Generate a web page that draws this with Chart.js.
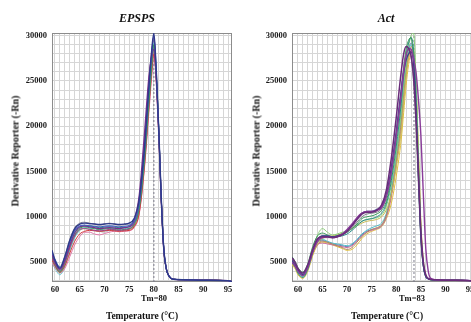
<!DOCTYPE html>
<html>
<head>
<meta charset="utf-8">
<script src="https://cdn.jsdelivr.net/npm/chart.js@4/dist/chart.umd.min.js"></script>
<style>
  html, body { margin: 0; padding: 0; background: #fff; }
  body { width: 471px; height: 322px; overflow: hidden; position: relative; font-family: 'Liberation Serif', 'Times New Roman', serif; color: #111; }
  .panel { position: absolute; top: 0; }
  .txt { position: absolute; font-weight: bold; white-space: nowrap; transform: translate(-50%, -50%); }
  .ttl { font-style: italic; font-size: 12px; }
  .ax { font-size: 9.5px; }
  .ylab { font-size: 10px; transform: translate(-50%, -50%) rotate(-90deg); }
  .tm { font-size: 8.5px; }
</style>
</head>
<body>
<div class="panel" style="left:0;"><canvas id="epspsChart" width="240" height="322"></canvas></div>
<div class="panel" style="left:235px;"><canvas id="actChart" width="245" height="322"></canvas></div>

<div class="txt ttl" style="left:137px; top:18px;">EPSPS</div>
<div class="txt ttl" style="left:386px; top:18px;">Act</div>
<div class="txt ylab" style="left:15px; top:151px;">Derivative Reporter (-Rn)</div>
<div class="txt ylab" style="left:256px; top:151px;">Derivative Reporter (-Rn)</div>
<div class="txt ax" style="left:142px; top:316px;">Temperature (°C)</div>
<div class="txt ax" style="left:387px; top:316px;">Temperature (°C)</div>
<div class="txt tm" style="left:154px; top:298px;">Tm=80</div>
<div class="txt tm" style="left:412px; top:298px;">Tm=83</div>

<script>
// ─── DATA ───
const yMin = 2800, yMax = 30300;
const yTickLabels = [5000, 10000, 15000, 20000, 25000, 30000];
const xTickLabels = [60, 65, 70, 75, 80, 85, 90, 95];

// EPSPS melt curves
const epspsTemps = [59.4, 60, 61, 62, 63, 64, 65, 66, 67, 68, 69, 70, 71, 72, 73, 74, 75, 76, 77, 78, 79, 79.5, 80, 80.5, 81, 81.5, 82, 82.5, 83, 84, 86, 90, 95, 95.8];
const epspsTm = 80;
const epspsA = [6300, 5200, 4300, 5600, 7400, 8700, 9200, 9300, 9250, 9200, 9150, 9200, 9250, 9200, 9150, 9200, 9300, 9800, 11800, 17000, 24500, 28000, 30300, 26000, 19500, 12000, 6500, 4300, 3500, 3100, 3050, 3000, 2950, 2850];
const epspsB = [5800, 5000, 4200, 5200, 6900, 8300, 8900, 9000, 8900, 8800, 8700, 8750, 8800, 8750, 8700, 8800, 8900, 9600, 12200, 18500, 25500, 27500, 28500, 25000, 19000, 11800, 6400, 4300, 3500, 3100, 3050, 3000, 2950, 2850];
const epspsC = [5500, 4700, 3900, 4900, 6700, 8000, 8700, 8900, 8800, 8700, 8600, 8650, 8700, 8600, 8550, 8600, 8700, 9100, 10800, 15500, 22500, 26000, 29000, 25500, 19500, 12000, 6500, 4300, 3500, 3100, 3050, 3000, 2950, 2850];
const epspsD = [5200, 4600, 3900, 4600, 6000, 7300, 8100, 8400, 8500, 8450, 8400, 8450, 8500, 8450, 8400, 8450, 8500, 8900, 10300, 15000, 22000, 25500, 28000, 25000, 19000, 11800, 6400, 4300, 3500, 3100, 3050, 3000, 2950, 2850];
const epspsE = [4900, 4400, 3800, 4300, 5600, 6900, 7800, 8300, 8300, 8100, 8000, 8150, 8300, 8400, 8350, 8400, 8450, 8800, 10200, 14800, 21500, 25000, 27800, 24800, 19000, 11800, 6400, 4300, 3500, 3100, 3050, 3000, 2950, 2850];
const epspsF = [5000, 4300, 3600, 4500, 6300, 7700, 8500, 8800, 8750, 8700, 8650, 8700, 8750, 8700, 8650, 8700, 8750, 9200, 10900, 15800, 23000, 26500, 29200, 25500, 19500, 12000, 6500, 4300, 3500, 3100, 3050, 3000, 2950, 2850];
const epspsG = [6000, 5100, 4500, 5700, 7500, 8800, 9300, 9400, 9300, 9200, 9100, 9200, 9300, 9200, 9100, 9150, 9200, 9500, 11000, 16000, 23500, 27000, 29500, 25800, 19500, 12000, 6500, 4300, 3500, 3100, 3050, 3000, 2950, 2850];
const epspsH = [5400, 4800, 4100, 5000, 6600, 7900, 8600, 8700, 8600, 8500, 8450, 8500, 8600, 8550, 8500, 8550, 8650, 9300, 11500, 17500, 25000, 28000, 29800, 25500, 19500, 12000, 6500, 4300, 3500, 3100, 3050, 3000, 2950, 2850];
const epspsI = [5600, 4900, 4000, 5100, 6900, 8200, 8800, 9000, 9000, 8900, 8800, 8850, 8900, 8850, 8800, 8850, 8900, 9300, 11000, 16200, 23500, 27000, 29000, 25500, 19300, 11900, 6500, 4300, 3500, 3100, 3050, 3000, 2950, 2850];
const epspsJ = [6100, 5300, 4400, 5500, 7200, 8500, 9000, 9100, 9000, 8950, 8900, 8950, 9000, 8950, 8900, 8950, 9050, 9500, 11300, 16500, 24000, 27500, 30000, 26000, 19500, 12000, 6500, 4300, 3500, 3100, 3050, 3000, 2950, 2850];
const epspsK = [5300, 4600, 3800, 4700, 6400, 7800, 8500, 8700, 8650, 8500, 8400, 8450, 8550, 8500, 8450, 8500, 8600, 9000, 10500, 15200, 22500, 26000, 28500, 25200, 19200, 11900, 6500, 4300, 3500, 3100, 3050, 3000, 2950, 2850];
const epspsL = [5100, 4500, 4000, 4800, 6500, 7900, 8700, 9000, 9100, 8800, 8400, 8300, 8500, 8700, 8800, 8750, 8700, 9100, 10700, 15500, 22800, 26200, 28800, 25300, 19300, 11900, 6500, 4300, 3500, 3100, 3050, 3000, 2950, 2850];

// Act melt curves
const actTemps = [58.8, 59.5, 60, 61, 62, 63, 64, 65, 66, 67, 68, 69, 70, 71, 72, 73, 74, 75, 76, 77, 78, 79, 80, 81, 81.5, 82, 82.5, 83, 83.5, 84, 84.5, 85, 85.5, 86, 86.5, 87, 88, 90, 95, 95.8];
const actTm = 83.6;
const actU1 = [5500, 4900, 4300, 3800, 4700, 6400, 7600, 7800, 7800, 7700, 7800, 8000, 8400, 9000, 9700, 10300, 10500, 10500, 10700, 11300, 13000, 16500, 21000, 26000, 28000, 28800, 28600, 27800, 25500, 21000, 15000, 8500, 5000, 3600, 3200, 3100, 3050, 3000, 2950, 2900];
const actU2 = [5200, 4600, 4100, 3600, 4500, 6200, 7500, 7900, 7900, 7800, 7900, 8100, 8500, 9100, 9800, 10400, 10600, 10600, 10800, 11200, 12500, 15500, 19500, 24000, 26000, 27300, 28000, 28200, 27000, 22000, 14500, 7800, 4600, 3400, 3150, 3050, 3000, 3000, 2950, 2900];
const actU3 = [5400, 4800, 4200, 3700, 4600, 6300, 7400, 7700, 7700, 7700, 7800, 8000, 8300, 8800, 9400, 10000, 10300, 10400, 10500, 10900, 12200, 15000, 19000, 24000, 26500, 28000, 28400, 27600, 25000, 20000, 13500, 7500, 4500, 3400, 3150, 3050, 3000, 3000, 2950, 2900];
const actU4 = [5000, 4500, 4000, 3500, 4400, 6100, 7300, 7700, 7800, 7700, 7800, 8100, 8600, 9200, 9900, 10400, 10600, 10600, 10700, 11000, 12300, 15000, 19000, 23500, 26000, 27800, 28600, 28500, 27500, 26000, 23000, 19000, 12500, 6500, 4000, 3200, 3050, 3000, 2950, 2900];
const actU5 = [5600, 5000, 4400, 3900, 4800, 6700, 7900, 8200, 8000, 7800, 7900, 8100, 8300, 8700, 9200, 9800, 10000, 10100, 10300, 10700, 11800, 14500, 18500, 23500, 26500, 28500, 29500, 29800, 27500, 22000, 14500, 7800, 4600, 3400, 3150, 3050, 3000, 3000, 2950, 2900];
const actM1 = [5300, 4700, 4100, 3500, 4400, 6400, 8000, 8700, 8300, 8000, 8100, 8300, 8400, 8700, 9100, 9500, 9700, 9800, 9900, 10200, 11200, 13500, 17000, 21500, 24500, 27000, 28800, 30000, 30300, 25500, 17000, 9000, 5000, 3600, 3200, 3100, 3000, 3000, 2950, 2900];
const actM2 = [4900, 4400, 3800, 3300, 4200, 6000, 7400, 7900, 7900, 7800, 7800, 7900, 8100, 8500, 9000, 9500, 9700, 9800, 10000, 10400, 11500, 14000, 17800, 22500, 25500, 27800, 29200, 29800, 28500, 23500, 15500, 8200, 4700, 3400, 3150, 3050, 3000, 3000, 2950, 2900];
const actM3 = [4800, 4300, 3700, 3300, 4100, 5800, 7100, 7600, 7800, 7900, 8000, 8200, 8400, 8700, 9000, 9300, 9500, 9600, 9700, 10000, 10800, 12500, 15500, 19500, 22500, 25500, 27500, 28300, 27800, 24000, 16500, 8800, 4900, 3500, 3150, 3050, 3000, 3000, 2950, 2900];
const actL1 = [5100, 4600, 4000, 3500, 4300, 5900, 7000, 7300, 7200, 7000, 6800, 6600, 6400, 6600, 7200, 7800, 8300, 8600, 8800, 9100, 10200, 12500, 16000, 20500, 23500, 26000, 27800, 28800, 28000, 24000, 16000, 8500, 4800, 3500, 3150, 3050, 3000, 3000, 2950, 2900];
const actL2 = [5000, 4400, 3800, 3400, 4200, 6000, 7200, 7500, 7300, 7100, 7000, 6900, 6800, 7000, 7500, 8100, 8500, 8800, 9000, 9300, 10400, 12800, 16500, 21000, 24000, 26500, 28200, 29000, 28000, 23500, 15500, 8200, 4700, 3400, 3150, 3050, 3000, 3000, 2950, 2900];
const actL3 = [5200, 4700, 4100, 3600, 4300, 5900, 6900, 7100, 7000, 6900, 6800, 6700, 6600, 6800, 7300, 7900, 8300, 8500, 8700, 9000, 10000, 12200, 15800, 20000, 23000, 25800, 27600, 28500, 27500, 23000, 15000, 8000, 4600, 3400, 3150, 3050, 3000, 3000, 2950, 2900];
const actL4 = [5300, 4800, 4200, 3700, 4500, 6200, 7200, 7400, 7200, 7000, 6900, 6800, 6700, 6900, 7400, 8000, 8400, 8600, 8700, 9000, 10100, 12800, 16800, 21500, 24500, 27000, 28500, 29200, 28000, 23000, 15000, 8000, 4600, 3400, 3150, 3050, 3000, 3000, 2950, 2900];
const actL5 = [4700, 4200, 3600, 3200, 4000, 5700, 6900, 7200, 7100, 6900, 6700, 6500, 6300, 6400, 6900, 7600, 8100, 8400, 8600, 8900, 9800, 11500, 14500, 18500, 21500, 24500, 26800, 28200, 28500, 25000, 17500, 9500, 5200, 3600, 3200, 3100, 3000, 3000, 2950, 2900];

// ─── HELPERS ───
const serif = "'Liberation Serif', 'Times New Roman', serif";

function curve(temps, values, color, width) {
  return {
    data: temps.map((t, i) => ({ x: t, y: values[i] })),
    borderColor: color,
    borderWidth: width || 1,
    pointRadius: 0,
    fill: false,
    cubicInterpolationMode: 'monotone',
  };
}

function tmLine(tm) {
  return {
    data: [{ x: tm, y: yMin }, { x: tm, y: yMax }],
    borderColor: '#7a7a8a',
    borderWidth: 1,
    borderDash: [2, 2],
    pointRadius: 0,
    fill: false,
  };
}

// grid every 1 °C and every 1000 units
function gridTicks(from, to, step) {
  const out = [];
  for (let v = from; v <= to; v += step) out.push({ value: v });
  return out;
}

const framePlugin = {
  id: 'frame',
  beforeDatasetsDraw(chart) {
    const { ctx, chartArea: a } = chart;
    ctx.save();
    ctx.strokeStyle = '#8c8c8c';
    ctx.lineWidth = 1;
    ctx.strokeRect(a.left + 0.5, a.top + 0.5, a.width - 1, a.height - 1);
    ctx.restore();
  }
};

function makeChart(id, datasets, xMin, xMax, yAxisWidth, padRight) {
  return new Chart(document.getElementById(id), {
    type: 'line',
    data: { datasets },
    plugins: [framePlugin],
    options: {
      responsive: false,
      animation: false,
      layout: { padding: { top: 33, right: padRight, left: 0, bottom: 0 } },
      plugins: { legend: { display: false }, tooltip: { enabled: false } },
      scales: {
        x: {
          type: 'linear',
          min: xMin,
          max: xMax,
          grid: { color: '#d6d6d6', drawTicks: false },
          border: { display: false },
          ticks: {
            autoSkip: false,
            maxRotation: 0,
            padding: 3,
            color: '#1a1a1a',
            font: { size: 8.5, family: serif, weight: 'bold' },
            callback: v => xTickLabels.includes(v) ? String(v) : '',
          },
          afterBuildTicks: s => { s.ticks = gridTicks(Math.ceil(xMin), Math.floor(xMax), 1); },
          afterFit: s => { s.height = 40; },
        },
        y: {
          type: 'linear',
          position: 'left',
          min: yMin,
          max: yMax,
          grid: { color: '#d6d6d6', drawTicks: false },
          border: { display: false },
          ticks: {
            autoSkip: false,
            padding: 5,
            color: '#1a1a1a',
            font: { size: 8.5, family: serif, weight: 'bold' },
            callback: v => yTickLabels.includes(v) ? String(v) : '',
          },
          afterBuildTicks: s => { s.ticks = gridTicks(3000, 30000, 1000); },
          afterFit: s => { s.width = yAxisWidth; },
        }
      }
    }
  });
}

// ─── EPSPS ───
makeChart('epspsChart', [
  curve(epspsTemps, epspsA, '#2f3a8a', 1.4),
  curve(epspsTemps, epspsJ, '#3f5fc0', 1.1),
  curve(epspsTemps, epspsB, '#7b2f8e', 1.3),
  curve(epspsTemps, epspsH, '#a03c8c'),
  curve(epspsTemps, epspsC, '#3c9a5c'),
  curve(epspsTemps, epspsI, '#2e7f7a'),
  curve(epspsTemps, epspsD, '#d23a3a'),
  curve(epspsTemps, epspsE, '#e07aa8'),
  curve(epspsTemps, epspsF, '#5cc4d0'),
  curve(epspsTemps, epspsK, '#9fb04a'),
  curve(epspsTemps, epspsG, '#8c8c9c'),
  curve(epspsTemps, epspsL, '#b8b8c8'),
  tmLine(epspsTm),
], 59.4, 95.8, 52, 8);

// ─── ACT ───
makeChart('actChart', [
  curve(actTemps, actU1, '#6a2c7a', 1.5),
  curve(actTemps, actU4, '#8a3c9a', 1.4),
  curve(actTemps, actU2, '#3b3f8c', 1.3),
  curve(actTemps, actU3, '#7c7c88'),
  curve(actTemps, actU5, '#3a9a5a'),
  curve(actTemps, actM2, '#2a8a8a'),
  curve(actTemps, actM1, '#8ccf7a'),
  curve(actTemps, actM3, '#c8b850'),
  curve(actTemps, actL1, '#b08a60'),
  curve(actTemps, actL2, '#4ab8c8'),
  curve(actTemps, actL3, '#d070a0'),
  curve(actTemps, actL4, '#6a7ab0'),
  curve(actTemps, actL5, '#e0c040'),
  tmLine(actTm),
], 58.8, 95.8, 57, 6);
</script>
</body>
</html>
